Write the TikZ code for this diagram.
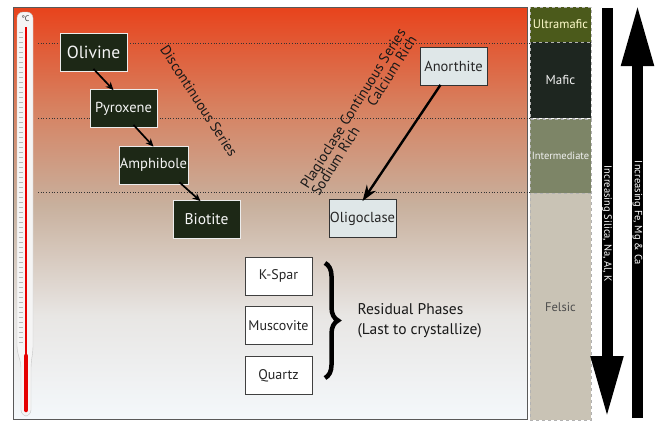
\documentclass[tikz,border=0pt]{standalone}
\usepackage{fontspec}
\setmainfont{PT Sans}
\usepackage{tikz}
\usetikzlibrary{arrows.meta, positioning, calc, decorations.pathreplacing}
\definecolor{magmared}{HTML}{E8431C}
\definecolor{magmaorange}{HTML}{D7805F}
\definecolor{magmatan}{HTML}{C8B09D}
\definecolor{magmalight}{HTML}{E8E6E4}
\definecolor{magmapale}{HTML}{F4F8FB}
\definecolor{mineraldark}{HTML}{1D2816}
\definecolor{plagfill}{HTML}{DFE7E8}
\definecolor{ultracol}{HTML}{4B5A1B}
\definecolor{maficcol}{HTML}{1E2620}
\definecolor{intercol}{HTML}{7D8567}
\definecolor{felsiccol}{HTML}{C9C3B5}
\pgfdeclareverticalshading{magma}{100bp}{color(0bp)=(magmapale); color(25bp)=(magmapale); color(37.5bp)=(magmalight); color(51bp)=(magmatan); color(63bp)=(magmaorange); color(75bp)=(magmared); color(100bp)=(magmared)}

\begin{document}
\begin{tikzpicture}[x=1pt, y=-1pt,
    node distance=11pt and 10pt,
    dark_node/.style={rectangle, fill=mineraldark, draw=white!85!gray, thick, text=white!92!gray, minimum width=67pt, minimum height=38pt, inner sep=1pt, font=\fontsize{14.5}{16}\selectfont},
    plag_node/.style={rectangle, fill=plagfill, draw=black!80, thick, text=black!85, minimum width=67pt, minimum height=38pt, inner sep=1pt, font=\fontsize{14.5}{16}\selectfont},
    resid_node/.style={rectangle, fill=white, draw=black!75, thick, text=black!85, minimum width=67pt, minimum height=38pt, inner sep=1pt, font=\fontsize{14}{16}\selectfont},
    rock_cell/.style={rectangle, draw=gray!60, dashed, minimum width=61pt, inner sep=0pt, font=\fontsize{12.5}{14}\selectfont},
    series_text/.style={font=\fontsize{14.5}{16}\selectfont, text=black!90},
    step_arrow/.style={-{Stealth[length=8pt, width=7pt]}, line width=1.7pt, black},
    plag_arrow/.style={-{Stealth[length=16pt, width=11pt]}, line width=2.4pt, black},
    big_arrow/.style={line width=11pt, black, -{Triangle[length=62pt, width=30pt]}},
    arrow_text/.style={rotate=-90, text=white, font=\fontsize{10.5}{12}\selectfont}
]
\useasboundingbox (0,0) rectangle (659,421);

% Magma chamber
\shade[shading=magma] (13,7) rectangle (527,419);
\draw[gray!70!black] (13,7) rectangle (527,419);
\foreach \ly in {43,118,192}
    \draw[dotted, line width=0.7pt, gray!40!black] (38,\ly) -- (530,\ly);

% Thermometer
\draw[fill=white!92!gray, draw=gray!45, rounded corners=6pt] (21,362) -- (17,352) -- (17,12) -- (33,12) -- (33,352) -- (31,362) -- (31,416) -- (21,416) -- cycle;
\foreach \t in {32,37,...,345}
    \draw[gray!55, line width=0.3pt] (18.5,\t) -- (22.5,\t);
\draw[red!90!black, line width=2pt] (26,27) -- (26,356);
\draw[red!90!black, line width=4.5pt, line cap=round] (26,356) -- (26,410);
\node[font=\fontsize{8}{8}\selectfont, text=black!80, inner sep=0pt] (degc) at (25.5,19) {°C};

% Discontinuous
\node[dark_node, font=\fontsize{17.5}{19}\selectfont] (olivine) at (93.5,52.5) {Olivine};
\node[dark_node] (pyroxene) at (123.5,108.5) {Pyroxene};
\node[dark_node] (amphibole) at (153.5,165) {Amphibole};
\node[dark_node, font=\fontsize{15.5}{17}\selectfont] (biotite) at (206.5,219.5) {Biotite};
\node[series_text, rotate=-57] (discont) at (199,101) {Discontinuous Series};

% Continuous
\node[plag_node] (anorthite) at (453.5,66.5) {Anorthite};
\node[plag_node] (oligoclase) at (362.5,218.5) {Oligoclase};
\node[series_text, rotate=58, inner sep=0pt] (plagseries) at (360,113)
    {\begin{tabular}{@{}l@{}}Plagioclase Continuous Series\\[-3pt] Sodium Rich\hfill Calcium Rich\end{tabular}};

% Residual
\node[resid_node] (kspar) at (278.5,276) {K-Spar};
\node[resid_node, below=of kspar] (muscovite) {Muscovite};
\node[resid_node, below=of muscovite] (quartz) {Quartz};
\coordinate (brace_top) at (325,263);
\coordinate (brace_bot) at (325,378);
\draw[decorate, decoration={brace, amplitude=13pt}, line width=4.5pt] (brace_top) -- (brace_bot);
\node[font=\fontsize{15.5}{20}\selectfont, align=left, anchor=west, text=black!90] (residual) at (354,321) {Residual Phases\\(Last to crystallize)};

% Rock types
\node[rock_cell, fill=ultracol, minimum height=35pt, text=white!80!yellow] (ultramafic) at (560.5,24.5) {Ultramafic};
\node[rock_cell, fill=maficcol, minimum height=76pt, below=0pt of ultramafic, text=white!90!gray, font=\fontsize{13}{15}\selectfont] (mafic) {Mafic};
\node[rock_cell, fill=intercol, minimum height=74pt, below=0pt of mafic, text=white!90!gray, font=\fontsize{10.5}{12}\selectfont] (intermediate) {Intermediate};
\node[rock_cell, fill=felsiccol, minimum height=227pt, below=0pt of intermediate, text=black!70, font=\fontsize{12.5}{14}\selectfont] (felsic) {Felsic};

% Trends
\coordinate (silica_top) at (607,8);
\coordinate (silica_bot) at (607,418);
\coordinate (femg_bot) at (637.5,418);
\coordinate (femg_top) at (637.5,4);
\draw[big_arrow] (silica_top) -- (silica_bot);
\draw[big_arrow] (femg_bot) -- (femg_top);
\node[arrow_text] (silica) at (607,224) {Increasing Silica, Na, Al, K};
\node[arrow_text] (femg) at (637.5,213) {Increasing Fe, Mg \& Ca};

% Connections
\draw[step_arrow] ([yshift=3pt]olivine.south) -- ([xshift=-10pt, yshift=-1pt]pyroxene.north);
\draw[step_arrow] ([xshift=10pt, yshift=3pt]pyroxene.south) -- ([xshift=0pt, yshift=-1pt]amphibole.north);
\draw[step_arrow] ([xshift=26pt, yshift=2pt]amphibole.south) -- ([xshift=-6pt, yshift=-1pt]biotite.north);
\draw[plag_arrow] ([xshift=-13pt, yshift=1pt]anorthite.south) -- ([yshift=-2pt]oligoclase.north);

\end{tikzpicture}
\end{document}
